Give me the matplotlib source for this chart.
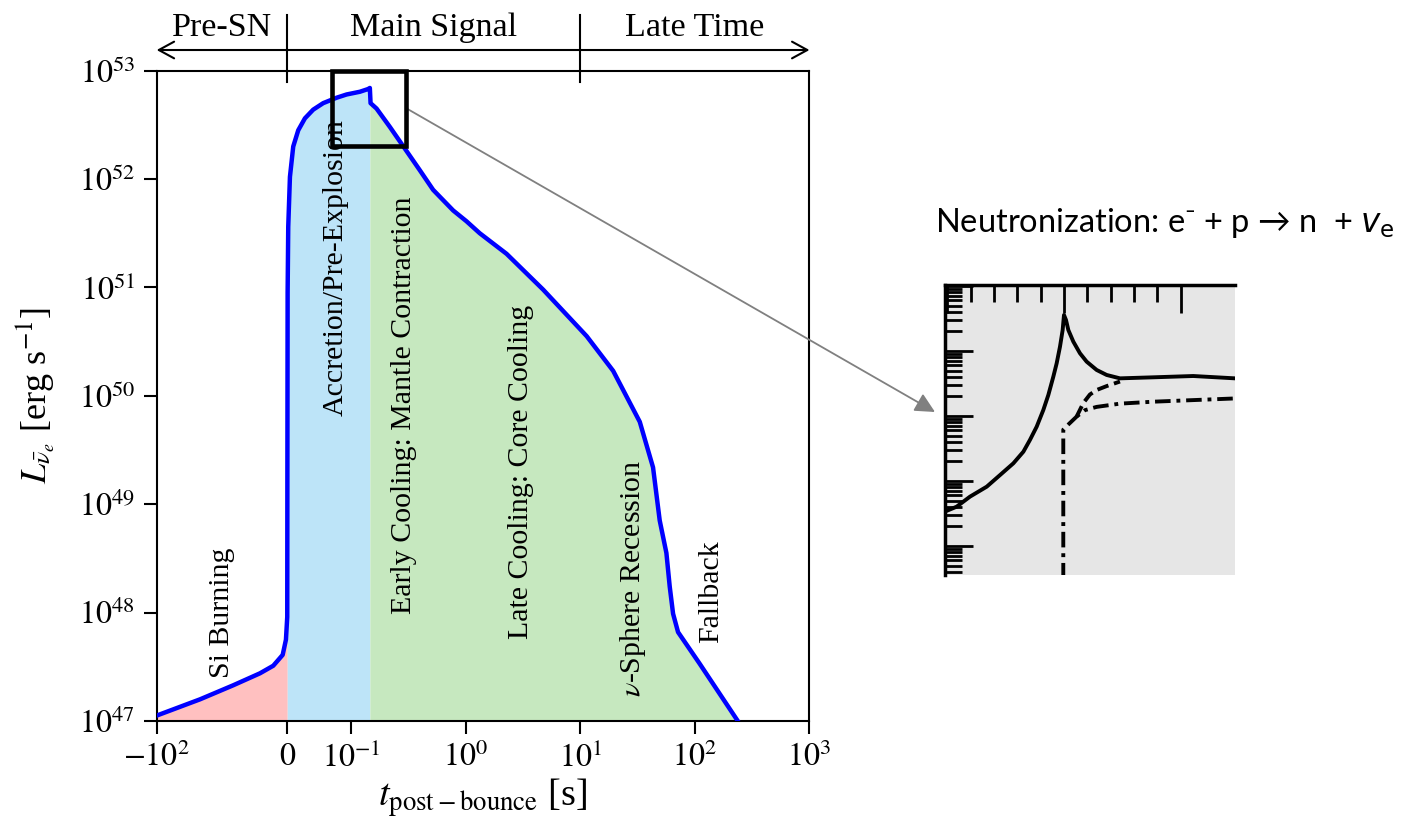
import numpy as np
import matplotlib
matplotlib.use("Agg")
import matplotlib.pyplot as plt
import matplotlib.transforms as mtrans
from matplotlib.patches import Rectangle, FancyArrowPatch
from matplotlib.ticker import FixedLocator, NullLocator, LogLocator

plt.rcParams["font.family"] = ["Liberation Serif", "DejaVu Serif"]
plt.rcParams["mathtext.fontset"] = "stix"

# --- anti-nu_e light curve, t [s] and log10 L [erg/s]
T_PRE = [-100, -66.8, -41.3, -20.9, -10.7, -3.5, -1.0, 0.0]
LOGL_PRE = [47.05, 47.20, 47.33, 47.44, 47.51, 47.61, 47.75, 47.96]
T_MAIN = [0.0002, 0.0006, 0.00157, 0.00424, 0.00942, 0.0173, 0.0278, 0.0408, 0.0565, 0.0776, 0.0933,
          0.1198, 0.1411, 0.1464,
          0.1485, 0.1675, 0.219, 0.296, 0.400, 0.522, 0.780, 1.02, 1.33, 2.28, 4.75, 11.4, 19.4,
          33.1, 43.2, 49.4, 56.5, 60.4, 64.6, 71.4, 110, 237]
LOGL_MAIN = [49.2, 50.95, 51.56, 52.02, 52.30, 52.45, 52.56, 52.64, 52.70, 52.75, 52.78,
             52.805, 52.83, 52.84,
             52.70, 52.65, 52.48, 52.28, 52.08, 51.90, 51.71, 51.61, 51.50, 51.31, 50.98, 50.55, 50.23,
             49.76, 49.34, 48.85, 48.55, 48.24, 47.99, 47.82, 47.53, 47.0]
T_ACC_END = 0.1464   # accretion -> cooling boundary

XTICKS = [-100, 0, 0.1, 1, 10, 100, 1000]
XTICKLABELS = [r"$-10^{2}$", r"$0$", r"$10^{-1}$", r"$10^{0}$", r"$10^{1}$", r"$10^{2}$", r"$10^{3}$"]
YEXP = [47, 48, 49, 50, 51, 52, 53]

PHASES = ["Pre-SN", "Main Signal", "Late Time"]
PHASE_X = [-50, 0.528, 100]

LABELS = ["Si Burning", "Accretion/Pre-Explosion", "Early Cooling: Mantle Contraction",
          "Late Cooling: Core Cooling", r"$\nu$-Sphere Recession", "Fallback"]
LABEL_T = [-50, 0.0765, 0.29, 3.03, 28.7, 139.5]
LABEL_LOGL = [48.0, 51.18, 49.91, 49.30, 48.32, 48.19]

# --- neutronization-burst inset (arbitrary units, t in ms rel. to burst peak)
IN_SOLID_X = [-5.1, -4.6, -4.03, -3.31, -2.74, -2.17, -1.74, -1.46, -1.17, -0.886, -0.671, -0.457,
              -0.314, -0.171, -0.057, 0.0, 0.086, 0.186, 0.4, 0.686, 0.971, 1.4, 1.83, 2.4, 3.83, 5.54, 7.33]
IN_SOLID_LOG = [0.53, 0.605, 0.759, 0.913, 1.092, 1.272, 1.451, 1.631, 1.836, 2.092, 2.323, 2.605,
                2.810, 3.067, 3.323, 3.554, 3.477, 3.323, 3.144, 2.964, 2.836, 2.708, 2.631, 2.579,
                2.595, 2.615, 2.579]
IN_DASH_X = [0.54, 0.83, 1.11, 1.40, 1.83, 2.40]
IN_DASH_LOG = [1.99, 2.20, 2.33, 2.40, 2.46, 2.53]
IN_DOT_X = [-0.03, -0.03, 0.19, 0.54, 0.90, 1.40, 2.40, 3.83, 7.33]
IN_DOT_LOG = [-0.5, 1.79, 1.87, 1.99, 2.09, 2.14, 2.19, 2.22, 2.27]

NEG_W, LIN_W = 1.139, 0.555   # widths (in decades) of the -100..0 and 0..0.1 linear pieces


def fwd(x):
    x = np.asarray(x, dtype=float)
    with np.errstate(divide="ignore", invalid="ignore"):
        logpart = LIN_W + np.log10(np.maximum(x, 1e-300) / 0.1)
    return np.where(x < 0, x / 100 * NEG_W, np.where(x < 0.1, x / 0.1 * LIN_W, logpart))


def inv(u):
    u = np.asarray(u, dtype=float)
    with np.errstate(over="ignore"):
        logpart = 0.1 * 10 ** np.minimum(u - LIN_W, 300)
    return np.where(u < 0, u / NEG_W * 100, np.where(u < LIN_W, u / LIN_W * 0.1, logpart))


fig = plt.figure(figsize=(14.1, 8.26), dpi=100)
ax = fig.add_axes([0.1111, 0.1271, 0.4630, 0.7874])
ax.set_xscale("function", functions=(fwd, inv))
ax.set_yscale("log")

t = np.array(T_PRE + T_MAIN)
L = 10 ** np.array(LOGL_PRE + LOGL_MAIN)
ax.fill_between(t, L, 1e47, where=t <= 0, color="#ffc0c0", lw=0)
ax.fill_between(t, L, 1e47, where=(t >= 0) & (t <= T_ACC_END), color="#bde4f8", lw=0)
ax.fill_between(t, L, 1e47, where=t >= T_ACC_END, color="#c6e8bf", lw=0)
ax.plot(t, L, color="#0000ff", lw=3.2, zorder=4, solid_joinstyle="round")

ax.set_xlim(-100, 1000)
ax.set_ylim(1e47, 1e53)
ax.set_xticks(XTICKS)
ax.set_xticklabels(XTICKLABELS)
ax.set_yticks([10.0 ** e for e in YEXP])
ax.set_yticklabels([rf"$10^{{{e}}}$" for e in YEXP])
ax.xaxis.set_minor_locator(NullLocator())
ax.yaxis.set_minor_locator(NullLocator())
ax.tick_params(length=9.5, width=1.5, labelsize=23, pad=6)
for s in ax.spines.values():
    s.set_linewidth(1.5)
ax.set_xlabel(r"$t_{\mathrm{post-bounce}}$ [s]", fontsize=27.5, labelpad=2)
ax.set_ylabel(r"$L_{\bar{\nu}_e}$ [erg s$^{-1}$]", fontsize=26, labelpad=16)

for lab, lt, ll in zip(LABELS, LABEL_T, LABEL_LOGL):
    ax.text(lt, 10 ** ll, lab, rotation=90, ha="center", va="center", fontsize=21.5, zorder=5)

# phase banner above the axes
trans = mtrans.blended_transform_factory(ax.transData, ax.transAxes)
yb = 1.0317
arrow_kw = dict(arrowstyle="->,head_length=0.55,head_width=0.3", mutation_scale=20, lw=1.5,
                color="black", shrinkA=0, shrinkB=0, transform=trans, clip_on=False)
ax.add_patch(FancyArrowPatch((0, yb), (-100, yb), **arrow_kw))
ax.add_patch(FancyArrowPatch((10, yb), (1000, yb), **arrow_kw))
ax.plot([0, 10], [yb, yb], color="black", lw=1.5, transform=trans, clip_on=False)
for xb in (0, 10):
    ax.plot([xb, xb], [0.983, 1.0855], color="black", lw=1.5, transform=trans, clip_on=False)
for ph, px in zip(PHASES, PHASE_X):
    ax.text(px, 1.0532, ph, transform=trans, ha="center", va="baseline", fontsize=24.5)

# zoom box and pointer to the inset
ax.add_patch(Rectangle((0.0697, 2.01e52), 0.3017 - 0.0697, 1e53 - 2.01e52, fill=False,
                       ec="black", lw=3.3, clip_on=False, zorder=6, joinstyle="miter"))
ax.annotate("", xy=(935 / 1410, 1 - 412 / 826), xycoords="figure fraction",
            xytext=(0.3017, 10 ** 52.655), textcoords="data", annotation_clip=False,
            arrowprops=dict(arrowstyle="-|>,head_length=0.6,head_width=0.3", mutation_scale=20,
                            color="#808080", lw=1.3, shrinkA=0, shrinkB=0))

fig.text(935 / 1410, 1 - 231.7 / 826,
         "Neutronization: e\u207b + p \u2192 n  + $\\mathit{v}_{\\mathrm{e}}$",
         family=["Lato", "DejaVu Sans"], math_fontfamily="dejavusans", fontsize=23.5, va="baseline")

# inset
ins = fig.add_axes([945 / 1410, 1 - 575 / 826, 290 / 1410, 290 / 826])
ins.set_facecolor("#e6e6e6")
ins.set_yscale("log")
ins.plot(IN_SOLID_X, 10 ** np.array(IN_SOLID_LOG), color="black", lw=2.8)
ins.plot(IN_DASH_X, 10 ** np.array(IN_DASH_LOG), color="black", lw=2.8, ls=(0, (3, 1.5)))
ins.plot(IN_DOT_X, 10 ** np.array(IN_DOT_LOG), color="black", lw=2.8, ls=(0, (4, 1.5, 1, 1.5)))
ins.set_xlim(-5.1, 7.33)
ins.set_ylim(10 ** -0.446, 10 ** 4.015)
ins.xaxis.set_major_locator(FixedLocator([-5, 0, 5]))
ins.xaxis.set_minor_locator(FixedLocator([-4, -3, -2, -1, 1, 2, 3, 4]))
ins.yaxis.set_major_locator(LogLocator(base=10, numticks=20))
ins.yaxis.set_minor_locator(LogLocator(base=10, subs=np.arange(2, 10), numticks=20))
ins.tick_params(which="both", direction="in", top=True, bottom=False, left=True, right=False,
                labeltop=False, labelbottom=False, labelleft=False, width=2)
ins.tick_params(which="major", length=20)
ins.tick_params(which="minor", length=12)
for side in ("right", "bottom"):
    ins.spines[side].set_visible(False)
for side in ("top", "left"):
    ins.spines[side].set_linewidth(2.5)

fig.savefig("out.png", dpi=100)
